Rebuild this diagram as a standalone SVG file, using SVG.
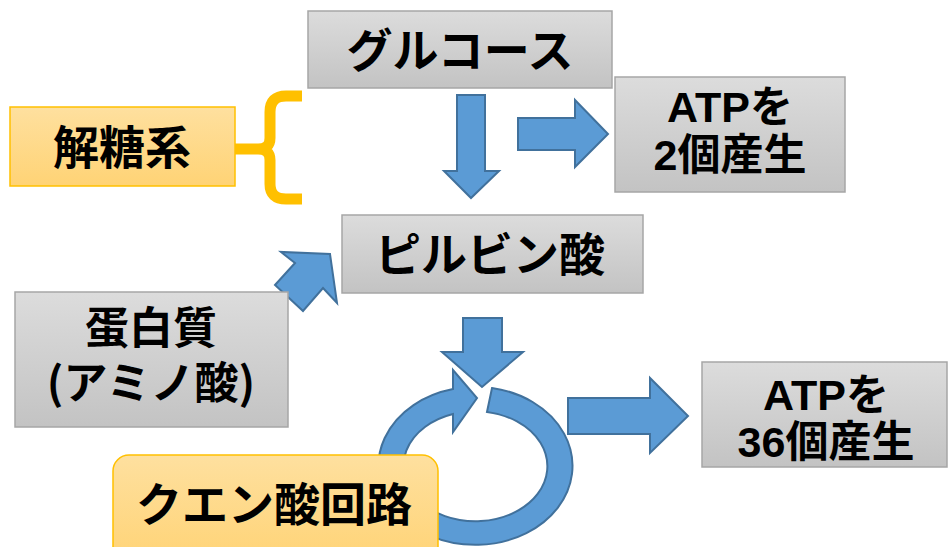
<svg xmlns="http://www.w3.org/2000/svg" width="950" height="547" viewBox="0 0 950 547">
<defs>
<linearGradient id="gray" x1="0" y1="0" x2="0" y2="1">
<stop offset="0" stop-color="#dcdcdc"/>
<stop offset="1" stop-color="#c3c3c3"/>
</linearGradient>
<linearGradient id="orange" x1="0" y1="0" x2="0" y2="1">
<stop offset="0" stop-color="#fee09f"/>
<stop offset="1" stop-color="#ffd375"/>
</linearGradient>
<style>
.gbox{fill:url(#gray);stroke:#a6a6a6;stroke-width:1.5}
.obox{fill:url(#orange);stroke:#ffc000;stroke-width:1.5}
.arr{fill:#5b9bd5;stroke:#41719c;stroke-width:2;stroke-linejoin:miter}
.t{font-family:"Noto Sans CJK JP","Noto Sans CJK SC",sans-serif;font-weight:bold;font-size:46px;fill:#000;text-anchor:middle}
.ta{font-family:"Liberation Sans","Noto Sans CJK JP",sans-serif;font-weight:bold;font-size:43px;fill:#000;text-anchor:middle}
.brace{fill:none;stroke:#ffc000;stroke-width:11;stroke-linejoin:round}
</style>
</defs>

<g id="connectors">
<path class="brace" d="M302,96 H286 Q270,96 270,112 V138 Q270,149 258,149 H235 M258,149 Q270,149 270,160 V184 Q270,199 286,199 H302"/>
<polygon class="arr" points="457,95 485,95 485,171 499,171 471,198 444,171 457,171"/>
<polygon class="arr" points="518,118 575,118 575,100 608,134 575,167 575,150 518,150"/>
<polygon class="arr" points="295,263 281,252 330,254 337,303 323,288 303,311 275,285"/>
<polygon class="arr" points="463,318 502,318 502,352 523,352 482,387 442,352 463,352"/>
<polygon class="arr" points="568,398 650,398 650,378 688,416 650,453 650,434 568,434"/>
<path class="arr" d="M492,388 A97 79 0 1 1 453,389 L453,370 L477,398 L453,432 L453,414 A72 55 0 1 0 487,412 Z"/>
</g>

<g id="glucose">
<rect class="gbox" x="308" y="11" width="304" height="77"/>
<text class="t" x="460" y="67">グルコース</text>
</g>

<g id="atp2">
<rect class="gbox" x="615" y="77" width="230" height="115"/>
<text class="ta" x="730" y="122">ATPを</text>
<text class="ta" x="730" y="170">2個産生</text>
</g>

<g id="glycolysis">
<rect class="obox" x="10" y="107" width="225" height="79"/>
<text class="t" x="122" y="164">解糖系</text>
</g>

<g id="pyruvate">
<rect class="gbox" x="342" y="215" width="301" height="78"/>
<text class="t" x="490" y="271">ピルビン酸</text>
</g>

<g id="protein">
<rect class="gbox" x="15" y="292" width="273" height="135"/>
<text class="t" x="151" y="344" style="font-size:44px">蛋白質</text>
<text class="t" x="151" y="399" style="font-size:44px">(アミノ酸)</text>
</g>

<g id="atp36">
<rect class="gbox" x="702" y="362" width="245" height="105"/>
<text class="ta" x="826" y="410">ATPを</text>
<text class="ta" x="826" y="457">36個産生</text>
</g>

<g id="citric">
<rect class="obox" x="113" y="455" width="325" height="110" rx="16" ry="16"/>
<text class="t" x="274" y="521">クエン酸回路</text>
</g>
</svg>
